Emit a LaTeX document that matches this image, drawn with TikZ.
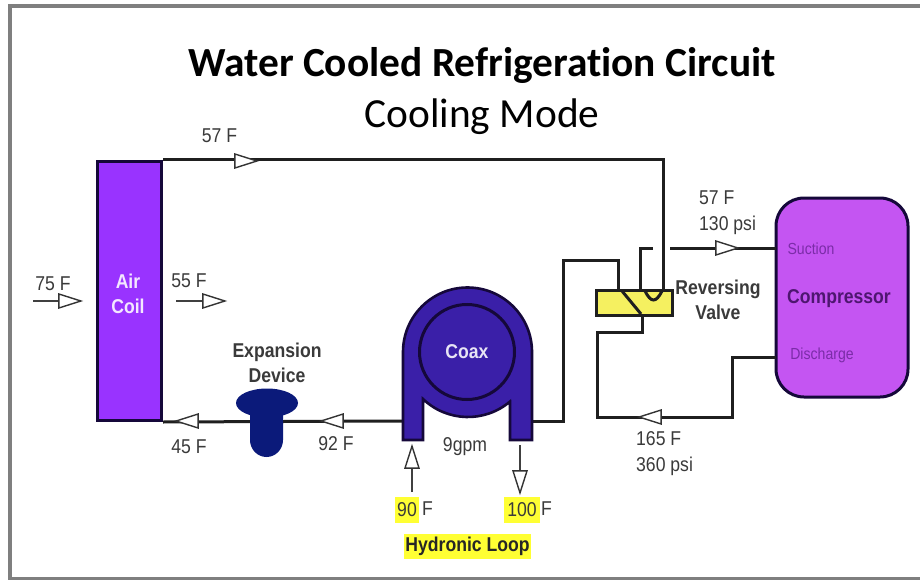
\documentclass[tikz,border=0pt]{standalone}
\usepackage{fontspec}
\setmainfont{Liberation Sans}
\newfontfamily\labelfont[FakeStretch=0.88]{Liberation Sans}
\newfontfamily\titlefont[Ligatures=NoCommon,Contextuals=NoAlternate]{Carlito}
\usetikzlibrary{shapes.geometric}
\definecolor{coilpurple}{HTML}{9933FF}
\definecolor{comppurple}{HTML}{C455F2}
\definecolor{coaxblue}{HTML}{3A1FA8}
\definecolor{expblue}{HTML}{0B1A7A}
\definecolor{valveyellow}{HTML}{F5F060}
\definecolor{hiyellow}{HTML}{FFFF33}
\definecolor{labelgray}{HTML}{3A3A3A}
\definecolor{framegray}{HTML}{7F7F7F}
\definecolor{edgedark}{HTML}{15083A}
\definecolor{portpurple}{HTML}{7B2CA8}
\definecolor{compdark}{HTML}{4E1670}
\begin{document}
\begin{tikzpicture}[x=1pt,y=-1pt,
  pipe/.style={draw=black!88,line width=3pt,line join=miter},
  thin pipe/.style={draw=black!75,line width=1.6pt},
  flow head/.style={isosceles triangle,isosceles triangle stretches,draw=black!80,fill=white,
    line width=1.4pt,inner sep=0pt,minimum width=14pt,minimum height=22pt,shape border rotate=#1},
  temp/.style={text=labelgray,font=\labelfont\fontsize{20}{26}\selectfont,inner sep=0pt},
  part/.style={text=labelgray,font=\labelfont\fontsize{20}{25}\selectfont\bfseries,align=center,inner sep=0pt},
  hilite/.style={temp,fill=hiyellow,minimum height=26pt}]

  \useasboundingbox (0,0) rectangle (920,580);
  \node[draw=framegray,line width=4pt,fill=white,minimum width=915pt,minimum height=573pt,inner sep=0pt] (frame) at (467.5,292.5) {};

  \node[font=\titlefont\fontsize{41.4}{46}\selectfont\bfseries,inner sep=0pt] (title) at (482,65) {Water Cooled Refrigeration Circuit};
  \node[font=\titlefont\fontsize{41.4}{46}\selectfont,inner sep=0pt] (subtitle) at (482,117) {Cooling Mode};

  \node[draw=edgedark,line width=3pt,fill=coilpurple,minimum width=64pt,minimum height=259pt,inner sep=0pt] (coil) at (129.5,291) {};
  \node[part,text=white!88!coilpurple] (coillabel) at (128,294) {Air\\Coil};

  \node[draw=edgedark,line width=3pt,fill=comppurple,rounded corners=28pt,minimum width=132pt,minimum height=199pt,inner sep=0pt] (comp) at (842,297.5) {};
  \node[part,text=compdark] (complabel) at (839,299) {Compressor};
  \node[text=portpurple,font=\labelfont\fontsize{16}{19}\selectfont,inner sep=0pt] (suction) at (811,249) {Suction};
  \node[text=portpurple,font=\labelfont\fontsize{16}{19}\selectfont,inner sep=0pt] (discharge) at (822,355) {Discharge};

  \coordinate (suctionin) at (776,248);
  \coordinate (dischargeout) at (776,357);
  \coordinate (coaxin) at (403,421);
  \coordinate (coaxout) at (531,421);
  \coordinate (valvea) at (618,290);
  \coordinate (valveb) at (640,290);
  \coordinate (valvec) at (663,290);
  \coordinate (valved) at (642,315);
  \coordinate (gapleft) at (653,248);
  \coordinate (gapright) at (670,248);

  \draw[pipe] (coil.north east) -| (valvec);
  \draw[pipe] (coaxin) -- (coil.south east);
  \draw[pipe] (coaxout) -- (563,421) -- (563,260) -- (618,260) -- (valvea);
  \draw[pipe] (valveb) -- (640,248) -- (gapleft);
  \draw[pipe] (gapright) -- (suctionin);
  \draw[pipe] (valved) -- (642,332) -- (597,332) -- (597,417) -- (732,417) -- (732,357) -- (dischargeout);

  \node[draw=black!88,line width=3pt,fill=valveyellow,minimum width=76pt,minimum height=25pt,inner sep=0pt] (valve) at (634,302.5) {};
  \draw[pipe] (622,291) -- (641,314);
  \draw[pipe] (645,291) .. controls (651,303) and (656,303) .. (662,291);
  \node[part] (valvelabel) at (718,299.5) {Reversing\\Valve};

  \draw[draw=edgedark,line width=2.6pt,fill=coaxblue] (403,352) -- (403,440) -- (423,440) -- (423,399)
    arc[start angle=133.7,end angle=49.7,radius=65] -- (510,440) -- (532,440) -- (532,352)
    arc[start angle=0,end angle=-180,radius=64.5] -- cycle;
  \node[circle,draw=edgedark,line width=3pt,fill=coaxblue,minimum size=95pt,inner sep=0pt,text=white!88!coaxblue,font=\labelfont\fontsize{20}{24}\selectfont\bfseries] (coax) at (467,352) {Coax};
  \node[temp] (gpm) at (465,447) {9gpm};

  \fill[expblue] (250,410) -- (250,440) arc[start angle=180,end angle=0,x radius=16.5,y radius=17] -- (283,410) -- cycle;
  \node[ellipse,fill=expblue,minimum width=62pt,minimum height=29pt,inner sep=0pt] (expansion) at (267,403) {};
  \node[part] (expansionlabel) at (277,363) {Expansion\\Device};

  \node[flow head=0] (h1) at (240,161) {};
  \node[temp] (t1) at (219.5,135.5) {57 F};
  \node[flow head=0] (h2) at (721,248) {};
  \node[temp,align=left,anchor=west] (t2) at (699,213) {57 F\\130 psi};
  \node[flow head=180] (h3) at (656,417) {};
  \node[temp,align=left,anchor=west] (t3) at (636,454) {165 F\\360 psi};
  \node[flow head=180] (h4) at (338,421) {};
  \node[temp] (t4) at (336,444) {92 F};
  \node[flow head=180] (h5) at (193,421) {};
  \node[temp] (t5) at (189,447) {45 F};

  \coordinate (airin) at (33,301);
  \coordinate (airout) at (176,301);
  \node[flow head=0] (h6) at (64,301) {};
  \node[flow head=0] (h7) at (208,301) {};
  \node[temp] (t6) at (53,284) {75 F};
  \node[temp] (t7) at (189,281) {55 F};
  \draw[thin pipe] (airin) -- (h6);
  \draw[thin pipe] (airout) -- (h7);

  \coordinate (loopin) at (412,492);
  \coordinate (loopout) at (520,445);
  \node[flow head=90] (h8) at (412,463) {};
  \node[flow head=-90] (h9) at (520,476) {};
  \draw[thin pipe] (loopin) -- (h8);
  \draw[thin pipe] (loopout) -- (h9);

  \node[hilite,minimum width=24pt] (loopa) at (407,510) {90};
  \node[temp,anchor=west] (loopaf) at (422,509) {F};
  \node[hilite,minimum width=36pt] (loopb) at (522,510) {100};
  \node[temp,anchor=west] (loopbf) at (541,509) {F};
  \node[part,text=black!85,fill=hiyellow,minimum width=127pt,minimum height=25pt] (loop) at (467.5,546.5) {Hydronic Loop};
\end{tikzpicture}
\end{document}
